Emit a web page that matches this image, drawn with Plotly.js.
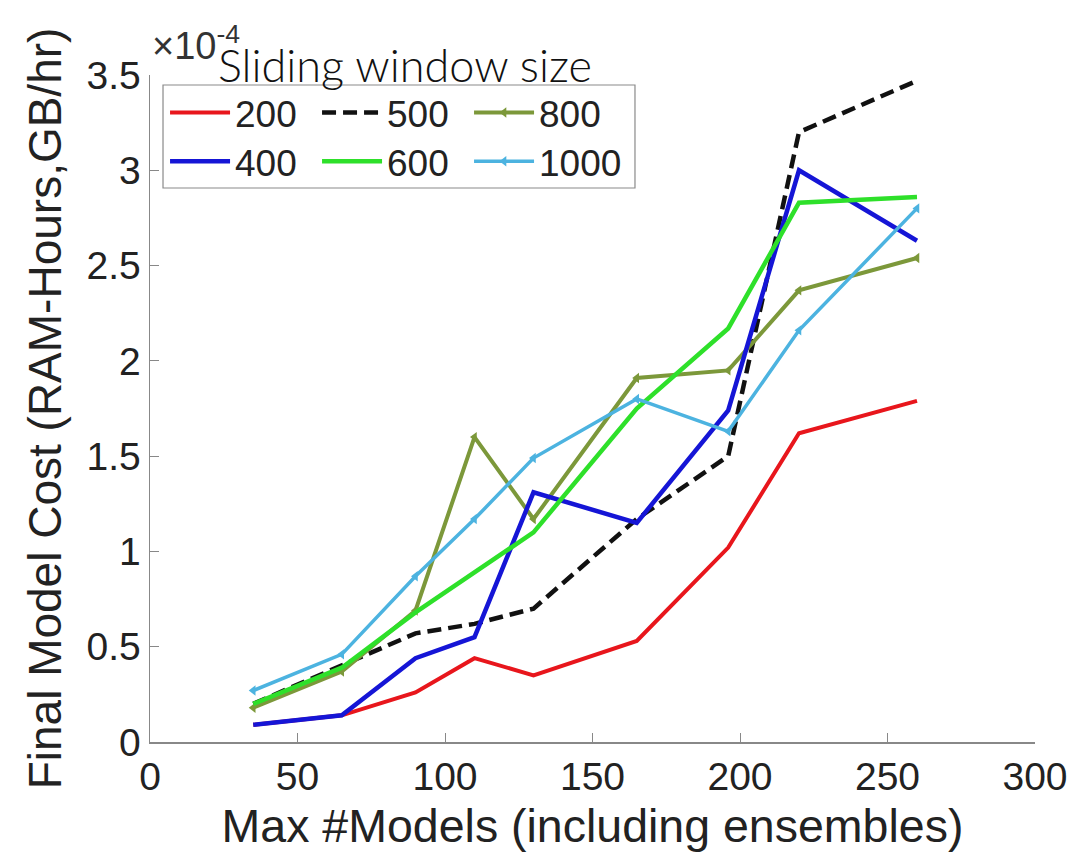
<!DOCTYPE html>
<html>
<head>
<meta charset="utf-8">
<script src="https://cdn.plot.ly/plotly-3.0.1.min.js"></script>
<style>body{margin:0;background:#fff;}#chart{width:1089px;height:866px;}</style>
</head>
<body>
<div id="chart"></div>
<script>
const maxModels = [35, 65, 90, 110, 130, 165, 196, 220, 260];
const w200  = [0.09, 0.14, 0.26, 0.44, 0.35, 0.53, 1.02, 1.62, 1.79];
const w400  = [0.09, 0.14, 0.44, 0.55, 1.31, 1.15, 1.74, 3.00, 2.63];
const w500  = [0.20, 0.40, 0.57, 0.62, 0.70, 1.17, 1.50, 3.20, 3.47];
const w600  = [0.20, 0.39, 0.68, 0.89, 1.10, 1.75, 2.17, 2.83, 2.86];
const w800  = [0.18, 0.37, 0.69, 1.60, 1.17, 1.91, 1.95, 2.37, 2.54];
const w1000 = [0.27, 0.46, 0.87, 1.17, 1.49, 1.80, 1.63, 2.16, 2.80];
const yTicks = [0, 0.5, 1, 1.5, 2, 2.5, 3, 3.5];
const yTickText = ['0', '0.5', '1', '1.5', '2', '2.5', '3', '3.5'];
const xTicks = [0, 50, 100, 150, 200, 250, 300];

const mk = (name, y, color, dash, width, withMarker, leg) => {
  const t = {
    x: maxModels, y: y, name: name, type: 'scatter', legend: leg,
    mode: withMarker ? 'lines+markers' : 'lines',
    line: {color: color, width: width, dash: dash}
  };
  if (withMarker) t.marker = {symbol: 'triangle-left', size: 9, color: color};
  return t;
};

const traces = [
  mk('200', w200, '#e8161c', 'solid', 4, false, 'legend'),
  mk('500', w500, '#111111', '14px,7px', 4.5, false, 'legend'),
  mk('800', w800, '#7c983a', 'solid', 4, true, 'legend'),
  mk('400', w400, '#1515d6', 'solid', 4.5, false, 'legend2'),
  mk('600', w600, '#2ee02a', 'solid', 4.5, false, 'legend2'),
  mk('1000', w1000, '#4cb3e0', 'solid', 3.5, true, 'legend2')
];

const legendCommon = {
  orientation: 'h', xanchor: 'left', yanchor: 'middle',
  borderwidth: 0, bgcolor: 'rgba(0,0,0,0)',
  font: {size: 37, color: '#222'}, entrywidth: 77, itemwidth: 60, tracegroupgap: 0
};

const layout = {
  width: 1089, height: 866,
  margin: {l: 150, r: 54, t: 75, b: 124},
  paper_bgcolor: '#fff', plot_bgcolor: '#fff',
  font: {family: 'Liberation Sans, Arial, sans-serif', color: '#222'},
  showlegend: true,
  legend: Object.assign({}, legendCommon, {x: 0.017, y: 0.943}),
  legend2: Object.assign({}, legendCommon, {x: 0.017, y: 0.870}),
  xaxis: {
    range: [0, 300], tickvals: xTicks, ticks: 'inside', ticklen: 9, tickcolor: '#888',
    showline: true, linecolor: '#888', linewidth: 1.5, showgrid: false, zeroline: false,
    tickfont: {size: 39, color: '#222'},
    title: {text: 'Max #Models (including ensembles)', font: {size: 46.5, color: '#222'}, standoff: 12}
  },
  yaxis: {
    range: [0, 3.5], tickvals: yTicks, ticktext: yTickText, ticks: 'inside', ticklen: 9, tickcolor: '#888',
    showline: true, linecolor: '#888', linewidth: 1.5, showgrid: false, zeroline: false,
    tickfont: {size: 39, color: '#222'},
    title: {text: 'Final Model Cost (RAM-Hours,GB/hr)', font: {size: 46, color: '#222'}, standoff: 10}
  },
  shapes: [
    {type: 'rect', xref: 'paper', yref: 'paper', x0: 0.0147, x1: 0.548, y0: 0.8306, y1: 0.985,
     line: {color: '#8a8a8a', width: 1.2}, fillcolor: 'rgba(255,255,255,0)', layer: 'above'}
  ],
  annotations: [
    {xref: 'paper', yref: 'paper', x: 0.0, y: 1.009, xanchor: 'left', yanchor: 'bottom',
     text: '×10<sup>-4</sup>', showarrow: false, font: {size: 38, color: '#333'}},
    {xref: 'paper', yref: 'paper', x: 0.288, y: 1.015, xanchor: 'center', yanchor: 'middle',
     text: 'Sliding window size', showarrow: false,
     font: {size: 45, color: '#111', family: 'Lato, Roboto, sans-serif', weight: 300}}
  ]
};

Plotly.newPlot('chart', traces, layout, {displayModeBar: false, staticPlot: true});
</script>
</body>
</html>
